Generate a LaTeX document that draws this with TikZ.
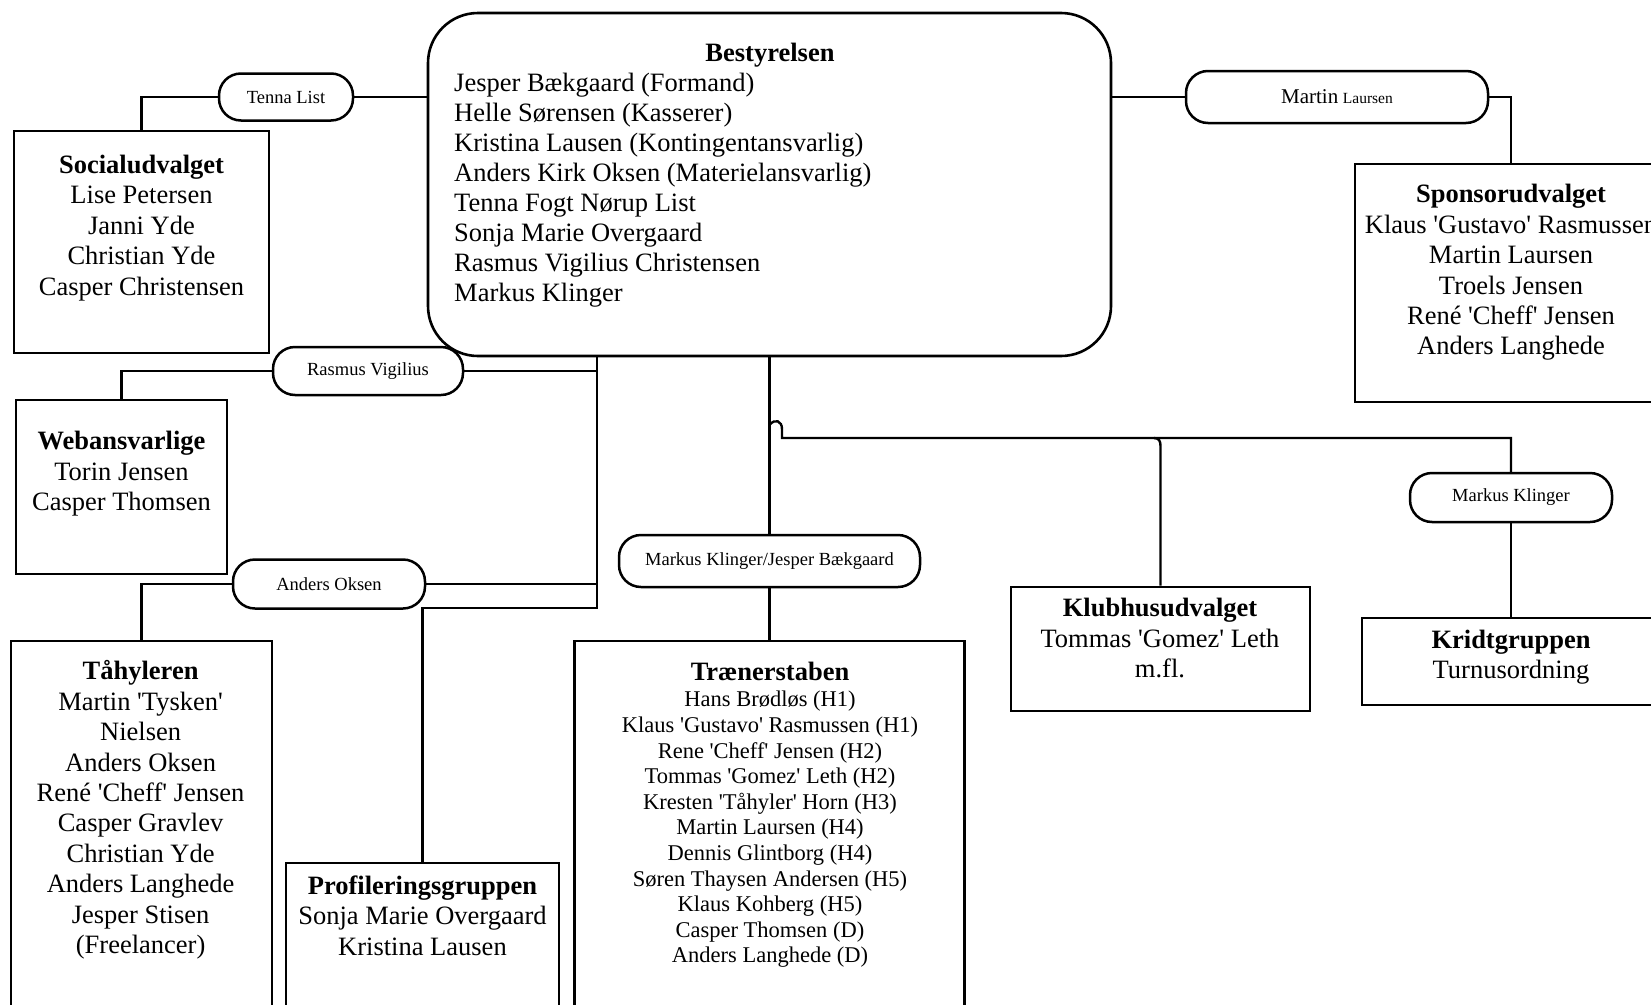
\documentclass[tikz,border=0pt]{standalone}
\usepackage{fontspec}
\newfontfamily\ser{Liberation Serif}
\begin{document}
\begin{tikzpicture}[x=1pt,y=-1pt,
  box/.style={draw, line width=2.6pt, rectangle, inner sep=0pt},
  pill/.style={draw, line width=2.5pt, rectangle, rounded corners=22pt, inner sep=0pt,
    font=\ser\fontsize{18.5}{21}\selectfont},
  conn/.style={line width=2.4pt},
  big/.style={font=\ser\fontsize{26.5}{30.4}\selectfont, align=center, inner sep=0pt},
  lst/.style={font=\ser\fontsize{22.5}{25.6}\selectfont, align=center, inner sep=0pt}]
\useasboundingbox (0,0) rectangle (1651,1004);
\fill[white] (0,0) rectangle (1651,1004);
\clip (0,0) rectangle (1651,1004);

% boxes
\node[box, minimum width=683pt, minimum height=343pt, rounded corners=50pt] (best) at (769.5,184.5) {};
\node[box, minimum width=255pt, minimum height=222pt] (soc) at (141.5,242) {};
\node[box, minimum width=211pt, minimum height=174pt] (web) at (121.5,487) {};
\node[box, minimum width=261pt, minimum height=419pt] (tah) at (141.5,850.5) {};
\node[box, minimum width=273pt, minimum height=197pt] (pro) at (422.5,961.5) {};
\node[box, minimum width=390pt, minimum height=419pt] (tra) at (769.5,850.5) {};
\node[box, minimum width=299pt, minimum height=124pt] (klub) at (1160.5,649) {};
\node[box, minimum width=298pt, minimum height=87pt] (kridt) at (1511,661.5) {};
\node[box, minimum width=312pt, minimum height=238pt] (spon) at (1511,283) {};

% pills
\node[pill, minimum width=134pt, minimum height=47pt] (tenna) at (286,97) {Tenna List};
\node[pill, minimum width=302pt, minimum height=52pt] (martin) at (1337,97)
  {{\fontsize{21}{24}\selectfont Martin} {\fontsize{15.5}{18}\selectfont Laursen}};
\node[pill, minimum width=190pt, minimum height=48pt] (rasmus) at (368,371) {Rasmus Vigilius};
\node[pill, minimum width=192pt, minimum height=49pt] (anders) at (329,584) {Anders Oksen};
\node[pill, minimum width=301pt, minimum height=52pt] (mkjb) at (769.5,561) {Markus Klinger/Jesper Bækgaard};
\node[pill, minimum width=202pt, minimum height=49pt] (mk) at (1511,497.5) {Markus Klinger};

% connectors
\coordinate (j1) at (597,608);
\draw[conn] (best.south -| j1) -- (j1) -| (pro.north);
\draw[conn] (rasmus.east) -- (rasmus.east -| j1);
\draw[conn] (rasmus.west) -| (web.north);
\draw[conn] (anders.east) -- (anders.east -| j1);
\draw[conn] (anders.west) -| (tah.north);
\draw[conn] (tenna.east) -- (tenna.east -| best.west);
\draw[conn] (tenna.west) -| (soc.north);
\draw[conn] (martin.west) -- (martin.west -| best.east);
\draw[conn] (martin.east) -| (spon.north);
\draw[conn] (best.south) -- (mkjb.north);
\draw[conn] (mkjb.south) -- (tra.north);
\coordinate (h0) at (769.5,425);
\coordinate (h1) at (782,438);
\draw[conn] (h0) .. controls (775,418) and (782,421) .. (782,429) -- (h1) -- (h1 -| mk.north) -- (mk.north);
\draw[conn] (mk.south) -- (kridt.north);
\coordinate (k0) at (1154,438);
\draw[conn] (k0) .. controls (1159,438) and (1160.5,441) .. (1160.5,446) -- (klub.north);

% texts
\node[big] (bestT) at (770,55.5) {\bfseries Bestyrelsen};
\node[big, align=left, anchor=west, font=\ser\fontsize{26.5}{30}\selectfont] (bestL) at (454,190.5)
  {Jesper Bækgaard (Formand)\\Helle Sørensen (Kasserer)\\Kristina Lausen (Kontingentansvarlig)\\Anders Kirk Oksen (Materielansvarlig)\\Tenna Fogt Nørup List\\Sonja Marie Overgaard\\Rasmus Vigilius Christensen\\Markus Klinger};
\node[big] (socT) at (141.5,228) {\textbf{Socialudvalget}\\Lise Petersen\\Janni Yde\\Christian Yde\\Casper Christensen};
\node[big] (webT) at (121.5,474) {\textbf{Webansvarlige}\\Torin Jensen\\Casper Thomsen};
\node[big] (tahT) at (140.6,810) {\textbf{Tåhyleren}\\Martin 'Tysken'\\Nielsen\\Anders Oksen\\René 'Cheff' Jensen\\Casper Gravlev\\Christian Yde\\Anders Langhede\\Jesper Stisen\\(Freelancer)};
\node[big] (proT) at (422.5,915.5) {\textbf{Profileringsgruppen}\\Sonja Marie Overgaard\\Kristina Lausen};
\node[big] (sponT) at (1511,272.5) {\textbf{Sponsorudvalget}\\Klaus 'Gustavo' Rasmussen\\Martin Laursen\\Troels Jensen\\René 'Cheff' Jensen\\Anders Langhede};
\node[big] (klubT) at (1160,638) {\textbf{Klubhusudvalget}\\Tommas 'Gomez' Leth\\m.fl.};
\node[big] (kridtT) at (1511,657) {\textbf{Kridtgruppen}\\Turnusordning};
\node[big] (traT) at (770,671) {\textbf{Trænerstaben}};
\node[lst] (traL) at (770,829.5) {Hans Brødløs (H1)\\Klaus 'Gustavo' Rasmussen (H1)\\Rene 'Cheff' Jensen (H2)\\Tommas 'Gomez' Leth (H2)\\Kresten 'Tåhyler' Horn (H3)\\Martin Laursen (H4)\\Dennis Glintborg (H4)\\Søren Thaysen Andersen (H5)\\Klaus Kohberg (H5)\\Casper Thomsen (D)\\Anders Langhede (D)};
\end{tikzpicture}
\end{document}
